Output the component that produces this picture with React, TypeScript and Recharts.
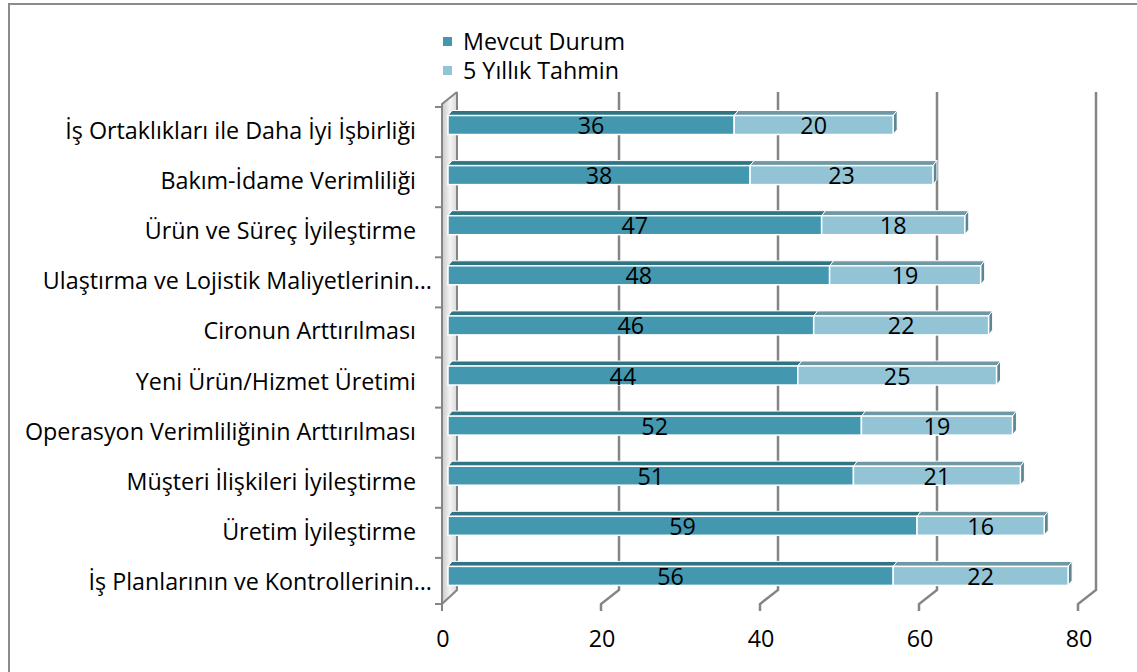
import React from "react";
import {
  BarChart,
  Bar,
  XAxis,
  YAxis,
  CartesianGrid,
  LabelList,
  Legend,
} from "recharts";

const categories = [
  "İş Ortaklıkları ile Daha İyi İşbirliği",
  "Bakım-İdame Verimliliği",
  "Ürün ve Süreç İyileştirme",
  "Ulaştırma ve Lojistik Maliyetlerinin…",
  "Cironun Arttırılması",
  "Yeni Ürün/Hizmet Üretimi",
  "Operasyon Verimliliğinin Arttırılması",
  "Müşteri İlişkileri İyileştirme",
  "Üretim İyileştirme",
  "İş Planlarının ve Kontrollerinin…",
];
const mevcutDurum = [36, 38, 47, 48, 46, 44, 52, 51, 59, 56];
const yillikTahmin = [20, 23, 18, 19, 22, 25, 19, 21, 16, 22];
const xTicks = [0, 20, 40, 60, 80];

const seriesNames = ["Mevcut Durum", "5 Yıllık Tahmin"];

const data = categories.map((name, i) => ({
  name,
  mevcut: mevcutDurum[i],
  tahmin: yillikTahmin[i],
}));

const FONT = "'Open Sans', 'Noto Sans', sans-serif";
const FS = 23.3;
const W = 1137;
const H = 672;
const M = { top: 106, right: 53, bottom: 25, left: 8 };
const PL = 448; // plot left
const PT = 106;
const PB = 607;
const BAND = (PB - PT) / categories.length;

// 3d offsets
const FRONT_DX = -6;
const BACK_DX = 12;
const FRONT_Y = 604;
const BACK_BOTTOM = 590;
const BACK_TOP = 92;
const FRONT_TOP = 104;
const AXIS = "#858585";

const BAR_SHIFT = -6.5;
const DX = 4;
const DY = 5;

const COLORS = {
  mevcut: { front: "#4398b0", top: "#2f7482", side: "#2f6e7c" },
  tahmin: { front: "#93c4d6", top: "#6e98a4", side: "#5b8793" },
};

function make3DBar(c: { front: string; top: string; side: string }, withSide: boolean) {
  return (props: any) => {
    const { x, y, width, height } = props;
    if (!width || width <= 0) return <g />;
    const y0 = y + BAR_SHIFT;
    return (
      <g>
        <polygon
          points={`${x},${y0} ${x + DX},${y0 - DY} ${x + width + DX},${y0 - DY} ${x + width},${y0}`}
          fill={c.top}
          stroke="#fff"
          strokeWidth={1}
        />
        {withSide && (
          <polygon
            points={`${x + width},${y0} ${x + width + DX},${y0 - DY} ${x + width + DX},${y0 + height - DY} ${x + width},${y0 + height}`}
            fill={c.side}
            stroke="#fff"
            strokeWidth={1}
          />
        )}
        <rect x={x} y={y0} width={width} height={height} fill={c.front} stroke="#fff" strokeWidth={1.5} />
      </g>
    );
  };
}

const renderValue = (props: any) => {
  const { x, y, width, height, value } = props;
  return (
    <text
      x={x + width / 2}
      y={y + BAR_SHIFT + height / 2 + 9}
      textAnchor="middle"
      fontSize={FS}
      fontFamily={FONT}
      fill="#000"
    >
      {value}
    </text>
  );
};

const gridLine = (props: any) => {
  const { x1, key } = props;
  const x = x1;
  if (x <= PL + 1) {
    const bx = x + BACK_DX - 3;
    return (
      <g key={key}>
        <polygon
          points={`${x + FRONT_DX},${FRONT_TOP} ${bx},${BACK_TOP} ${bx},${BACK_BOTTOM} ${x + FRONT_DX},${FRONT_Y}`}
          fill="url(#wallGrad)"
        />
        <path d={`M${bx},${BACK_TOP} V${BACK_BOTTOM} L${x + FRONT_DX},${FRONT_Y}`} stroke={AXIS} strokeWidth={2} fill="none" />
        <path
          d={`M${x + FRONT_DX},${FRONT_Y + 7} V${FRONT_TOP} L${bx},${BACK_TOP}`}
          stroke={AXIS}
          strokeWidth={2}
          fill="none"
        />
      </g>
    );
  }
  return (
    <path
      key={key}
      d={`M${x + BACK_DX},${BACK_TOP} V${BACK_BOTTOM} L${x + FRONT_DX},${FRONT_Y} V${FRONT_Y + 7}`}
      stroke={AXIS}
      strokeWidth={2.5}
      fill="none"
    />
  );
};

const XTick = (props: any) => {
  const { x, y, payload } = props;
  return (
    <text x={x + FRONT_DX + 1} y={y + 38} textAnchor="middle" fontSize={FS} fontFamily={FONT} fill="#000">
      {payload.value}
    </text>
  );
};

const YTick = (props: any) => {
  const { x, y, payload, index } = props;
  const label = String(payload.value);
  const tx = label.endsWith("…") ? x + 16 : x;
  return (
    <g>
      <line x1={PL + FRONT_DX - 7} x2={PL + FRONT_DX} y1={y - BAND / 2 + 1} y2={y - BAND / 2 + 1} stroke={AXIS} strokeWidth={2} />
      {index === categories.length - 1 && (
        <line x1={PL + FRONT_DX - 7} x2={PL + FRONT_DX} y1={FRONT_Y} y2={FRONT_Y} stroke={AXIS} strokeWidth={2} />
      )}
      <text x={tx} y={y + 8} textAnchor="end" fontSize={FS} fontFamily={FONT} fill="#000">
        {label}
      </text>
    </g>
  );
};

const LegendContent = () => (
  <div style={{ fontFamily: FONT, fontSize: FS, lineHeight: "29px", color: "#000" }}>
    {seriesNames.map((n, i) => (
      <div key={n} style={{ display: "flex", alignItems: "center" }}>
        <span
          style={{
            display: "inline-block",
            width: 9,
            height: 9,
            background: i === 0 ? COLORS.mevcut.front : COLORS.tahmin.front,
            marginRight: 11,
          }}
        />
        {n}
      </div>
    ))}
  </div>
);

export default function App() {
  return (
    <div style={{ position: "fixed", left: 0, top: 0, width: W, height: H, overflow: "hidden", background: "#fff" }}>
      <div
        style={{
          position: "absolute",
          left: 8,
          top: 3,
          width: W + 20,
          height: H + 20,
          border: "2px solid #8c8c8c",
          boxSizing: "border-box",
        }}
      />
      <div style={{ position: "absolute", left: 0, top: 0 }}>
        <BarChart width={W} height={H} data={data} layout="vertical" margin={M} barSize={19}>
          <defs>
            <linearGradient id="wallGrad" x1="0" y1="0" x2="1" y2="0">
              <stop offset="0%" stopColor="#c9c9c9" />
              <stop offset="55%" stopColor="#f4f4f4" />
              <stop offset="100%" stopColor="#d9d9d9" />
            </linearGradient>
          </defs>
          <CartesianGrid horizontal={false} vertical={gridLine} />
          <XAxis
            type="number"
            domain={[0, 80]}
            ticks={xTicks}
            axisLine={false}
            tickLine={false}
            tickSize={0}
            height={40}
            tick={<XTick />}
            interval={0}
          />
          <YAxis
            type="category"
            dataKey="name"
            width={440}
            axisLine={false}
            tickLine={false}
            tickSize={0}
            tickMargin={32}
            tick={<YTick />}
            interval={0}
          />
          <Legend
            layout="vertical"
            align="center"
            verticalAlign="middle"
            wrapperStyle={{ position: "absolute", top: 27, left: 443, width: 300 }}
            content={<LegendContent />}
          />
          <Bar dataKey="mevcut" stackId="a" name={seriesNames[0]} shape={make3DBar(COLORS.mevcut, false)} isAnimationActive={false}>
            <LabelList dataKey="mevcut" content={renderValue} />
          </Bar>
          <Bar dataKey="tahmin" stackId="a" name={seriesNames[1]} shape={make3DBar(COLORS.tahmin, true)} isAnimationActive={false}>
            <LabelList dataKey="tahmin" content={renderValue} />
          </Bar>
        </BarChart>
      </div>
    </div>
  );
}
